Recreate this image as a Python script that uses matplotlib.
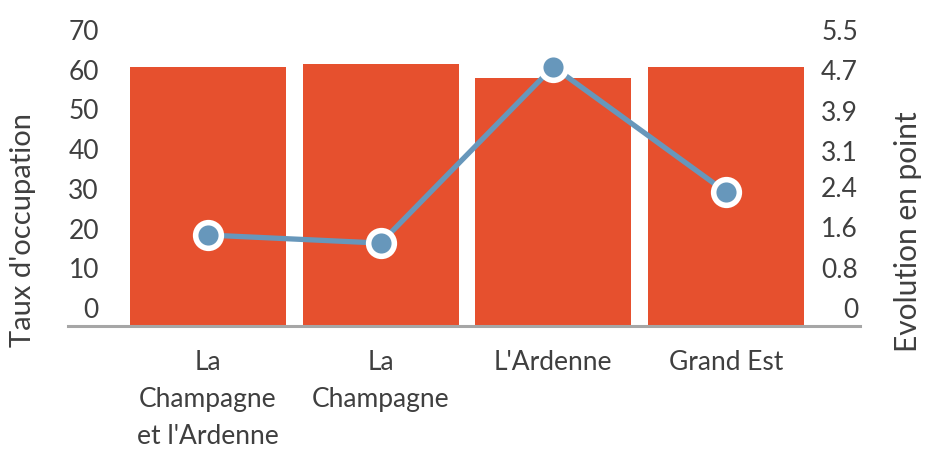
import numpy as np
import matplotlib
matplotlib.use("Agg")
import matplotlib.pyplot as plt
from matplotlib.transforms import ScaledTranslation

plt.rcParams['font.family'] = ['Lato', 'DejaVu Sans']

categories = ["La\nChampagne\net l'Ardenne", "La\nChampagne", "L'Ardenne", "Grand Est"]
occupation = [65.2, 66.0, 62.5, 65.2]
evolution = [1.80, 1.64, 5.13, 2.65]
left_ticks = [0, 10, 20, 30, 40, 50, 60, 70]
right_ticks = [0, 0.8, 1.6, 2.4, 3.1, 3.9, 4.7, 5.5]
right_tick_labels = ['0', '0.8', '1.6', '2.4', '3.1', '3.9', '4.7', '5.5']

BAR = '#E6502E'
LINE = '#6797BB'
TXT = '#3F3F3F'
AX = '#A6A6A6'
FS = 19

W, H = 928, 460
fig = plt.figure(figsize=(W / 100, H / 100), dpi=100)
ax = fig.add_axes([68 / W, 1 - 327 / H, (860 - 68) / W, (327 - 49) / H])
x = np.arange(len(categories))
ax.bar(x, occupation, width=0.903, color=BAR, zorder=2)
ax.set_xlim(-0.81, 3.776)
ax.set_ylim(0, 70)
ax.set_yticks(left_ticks)
ax.set_xticks(x)
ax.set_xticklabels(categories, linespacing=1.6, fontsize=FS, color=TXT)
for s in ['top', 'left', 'right']:
    ax.spines[s].set_visible(False)
ax.spines['bottom'].set_color(AX)
ax.spines['bottom'].set_linewidth(2.2)
ax.spines['bottom'].set_zorder(3)
ax.tick_params(axis='x', length=0, pad=16.5)
ax.tick_params(axis='y', length=0, pad=-22.3, labelsize=FS, labelcolor=TXT)

off = ScaledTranslation(0, 0.19, fig.dpi_scale_trans)
for lab in ax.get_yticklabels():
    lab.set_transform(lab.get_transform() + off)

ax2 = ax.twinx()
ax2.set_ylim(0, 5.5)
ax2.set_yticks(right_ticks)
ax2.set_yticklabels(right_tick_labels)
for s in ['top', 'left', 'right', 'bottom']:
    ax2.spines[s].set_visible(False)
ax2.tick_params(axis='y', length=0, pad=-1.4, labelsize=FS, labelcolor=TXT)
for lab in ax2.get_yticklabels():
    lab.set_horizontalalignment('right')
    lab.set_transform(lab.get_transform() + off)

ax2.plot(x, evolution, color=LINE, linewidth=3.8, marker='o', markersize=18.5,
         markerfacecolor=LINE, markeredgecolor='white', markeredgewidth=4,
         zorder=5, clip_on=False)

fig.text(23 / W, 1 - 230 / H, "Taux d'occupation", rotation=90, ha='center',
         va='center', fontsize=21, color=TXT)
fig.text(908 / W, 1 - 232 / H, "Evolution en point", rotation=90, ha='center',
         va='center', fontsize=21.5, color=TXT)

fig.savefig('out.png', dpi=100, facecolor='white')
